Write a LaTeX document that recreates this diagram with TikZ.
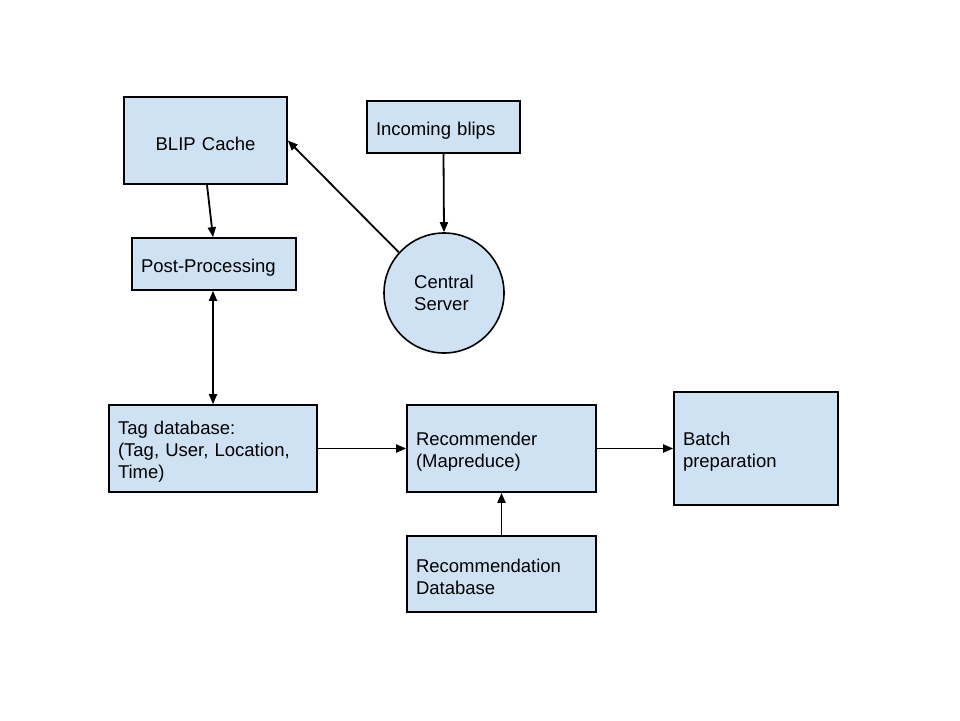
\documentclass[tikz,border=0pt]{standalone}
\usepackage{fontspec}
\setmainfont{Liberation Sans}
\usetikzlibrary{arrows.meta}
\definecolor{boxfill}{HTML}{CFE2F3}
\begin{document}
\begin{tikzpicture}[x=1pt,y=-1pt,
  box/.style={draw=black,fill=boxfill,line width=1.6pt,rectangle,inner xsep=9pt,inner ysep=0pt,
    font=\fontsize{18.5}{22}\selectfont,align=left,execute at begin node={\rule{0pt}{20pt}}},
  circ/.style={draw=black,fill=boxfill,line width=1.6pt,circle,inner sep=0pt,minimum size=120pt,
    font=\fontsize{18.5}{22}\selectfont,align=left},
  arr/.style={line width=1.8pt,-{Triangle[length=10pt,width=8pt]}},
  darr/.style={line width=1.8pt,{Triangle[length=10pt,width=8pt]}-{Triangle[length=10pt,width=8pt]}}]
\useasboundingbox (0,0) rectangle (960,720);
\fill[white] (0,0) rectangle (960,720);
\node[box,align=center,text width=145pt,minimum height=87pt] (blip) at (205.5,140.5) {BLIP Cache};
\node[box,text width=135pt,minimum height=52pt] (inc) at (443.5,127) {Incoming blips};
\node[box,text width=146pt,minimum height=52pt] (post) at (214,264) {Post-Processing};
\node[circ] (cs) at (444,293) {Central\\Server};
\node[box,text width=190pt,minimum height=87pt] (tag) at (213,448.5) {Tag database:\\(Tag, User, Location,\\Time)};
\node[box,text width=171pt,minimum height=87pt] (rec) at (501.5,448.5) {Recommender\\(Mapreduce)};
\node[box,text width=146pt,minimum height=113pt] (batch) at (756,448.5) {Batch\\preparation};
\node[box,text width=171pt,minimum height=76pt] (recdb) at (501.5,574) {Recommendation\\Database};
\draw[arr] ([xshift=1.5pt]blip.south) -- ([xshift=-1pt]post.north);
\draw[arr] (cs.138) -- (blip.east);
\draw[arr] (inc.south) -- (cs.north);
\draw[darr] ([xshift=-1pt]post.south) -- (tag.north);
\draw[arr] (tag.east) -- (rec.west);
\draw[arr] (rec.east) -- (batch.west);
\draw[arr] (recdb.north) -- (rec.south);
\end{tikzpicture}
\end{document}
